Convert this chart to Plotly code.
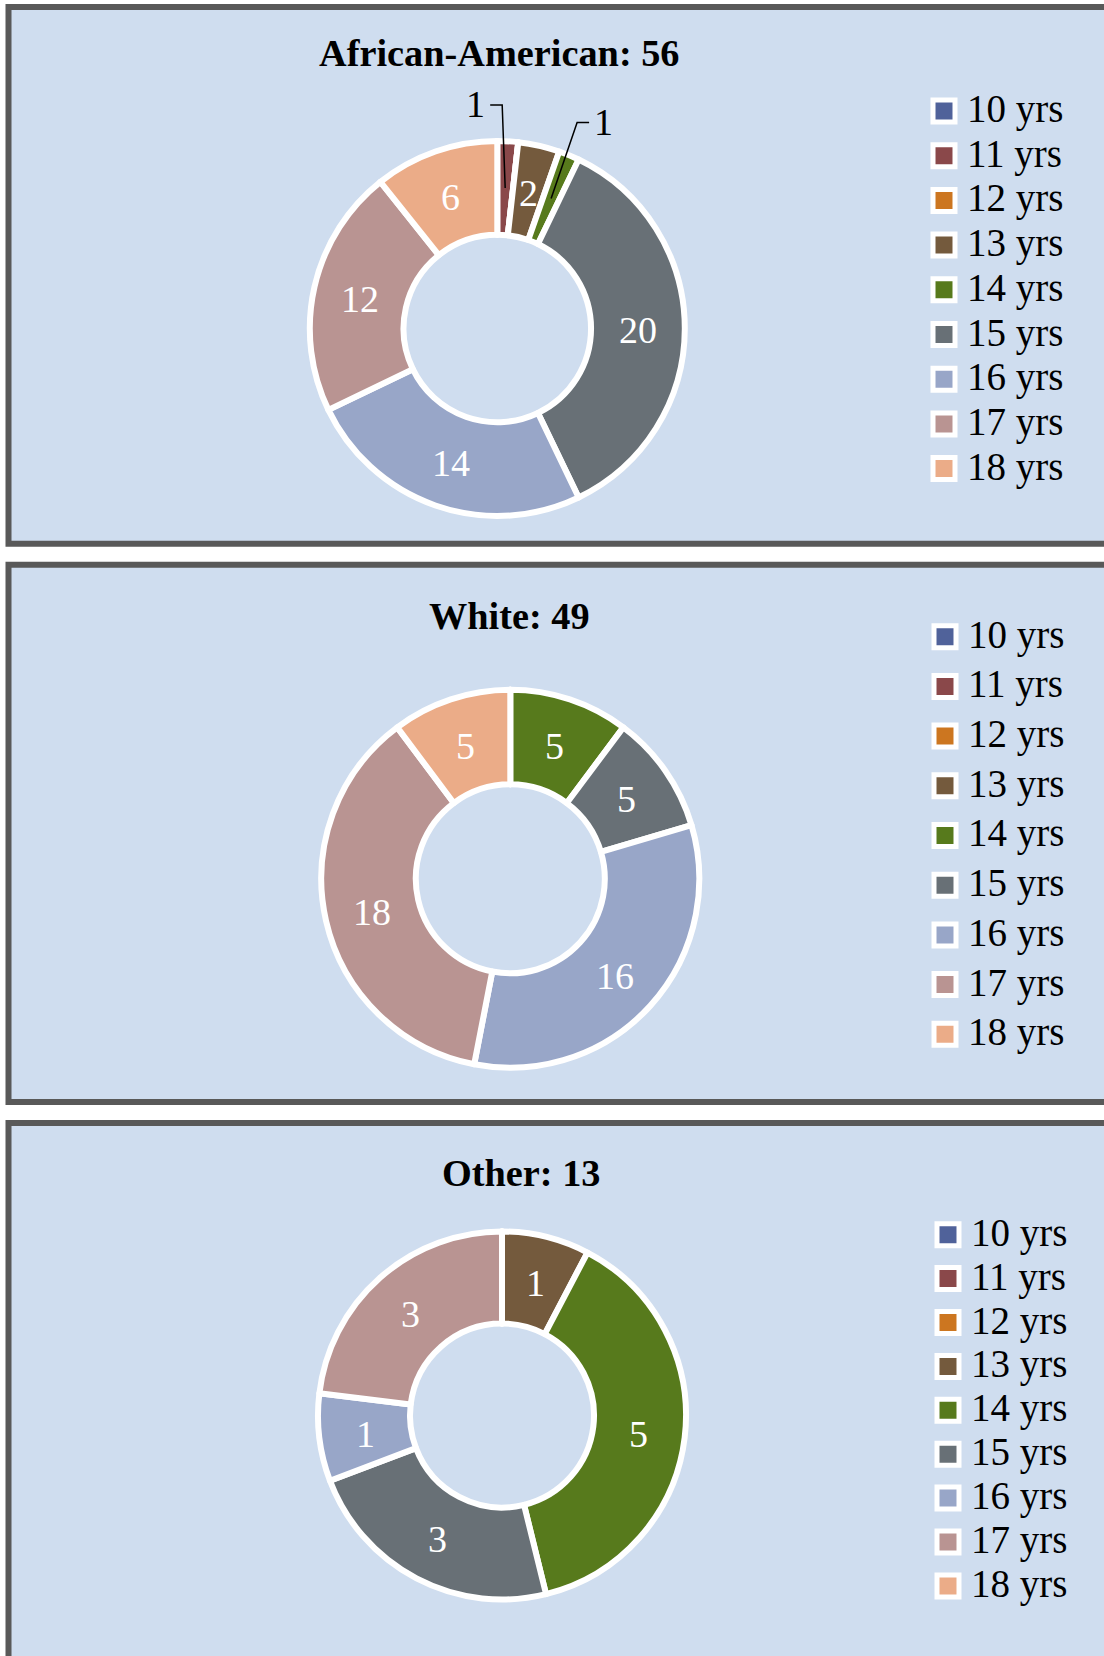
import math
import plotly.graph_objects as go

# ---------------- data ----------------
CATEGORIES = ["10 yrs", "11 yrs", "12 yrs", "13 yrs", "14 yrs",
              "15 yrs", "16 yrs", "17 yrs", "18 yrs"]
COLORS = ["#50629A", "#8A484A", "#CC7620", "#745A3D", "#577A1C",
          "#687076", "#98A6C8", "#B99492", "#EBAC88"]
GROUPS = ["African-American", "White", "Other"]
AA_VALUES = [0, 1, 0, 2, 1, 20, 14, 12, 6]
WHITE_VALUES = [0, 0, 0, 0, 5, 5, 16, 18, 5]
OTHER_VALUES = [0, 0, 0, 1, 5, 3, 1, 3, 0]
SERIES = [AA_VALUES, WHITE_VALUES, OTHER_VALUES]

# ---------------- layout / style (pixels) ----------------
W, H = 1104, 1656
FONT = "Palatino Linotype, Book Antiqua, Palatino, Liberation Serif, serif"
BG = "#CFDDEF"
BORDER = "#595959"
HOLE = 0.5
INSIDE_MIN_SHARE = 0.03

PANELS = [
    dict(top=7, bottom=543.7, cx=497.3, cy=328.5, r=187.5, title=(499, 53),
         lx=944, ly0=111, ldy=44.7),
    dict(top=564.7, bottom=1102, cx=510.3, cy=878.8, r=189, title=(509.6, 616),
         lx=945, ly0=636.7, ldy=49.7),
    dict(top=1123, bottom=1690, cx=502, cy=1415.5, r=184, title=(521, 1173),
         lx=948, ly0=1234.7, ldy=43.9),
]
# elbow call-outs for slices too thin for an inside label: (corner dx, corner dy, side)
CALLOUTS = {(0, "11 yrs"): (-3, -83, -1), (0, "14 yrs"): (26, -76, 1)}


def px(x):
    return x / W


def py(y):
    return 1 - y / H


fig = go.Figure()
shapes = []
annotations = []

for i, (name, values, p) in enumerate(zip(GROUPS, SERIES, PANELS)):
    total = sum(values)
    # panel frame
    shapes.append(dict(type="rect", xref="paper", yref="paper", layer="below",
                       x0=px(8.5), x1=px(W + 30), y0=py(p["top"]), y1=py(p["bottom"]),
                       fillcolor=BG, line=dict(color=BORDER, width=6)))
    fig.add_trace(go.Pie(
        labels=CATEGORIES, values=values, textinfo="none",
        marker=dict(colors=COLORS, line=dict(color="white", width=6)),
        hole=HOLE, sort=False, direction="clockwise", rotation=0,
        showlegend=False, hoverinfo="skip",
        domain=dict(x=[px(p["cx"] - p["r"]), px(p["cx"] + p["r"])],
                    y=[py(p["cy"] + p["r"]), py(p["cy"] - p["r"])]),
    ))
    # title
    annotations.append(dict(text=f"<b>{name}: {total}</b>", xref="paper", yref="paper",
                            x=px(p["title"][0]), y=py(p["title"][1]),
                            xanchor="center", yanchor="middle", showarrow=False,
                            font=dict(family=FONT, size=38.3, color="black")))
    # data labels (ring middle at each slice's mid angle) and call-outs
    cum = 0
    rmid = p["r"] * (1 + HOLE) / 2
    for cat, v in zip(CATEGORIES, values):
        if v > 0:
            th = 2 * math.pi * (cum + v / 2) / total
            ex = p["cx"] + rmid * math.sin(th)
            ey = p["cy"] - rmid * math.cos(th)
            key = (i, cat)
            if v / total >= INSIDE_MIN_SHARE:
                annotations.append(dict(text=str(v), xref="paper", yref="paper",
                                        x=px(ex), y=py(ey + 1.5),
                                        xanchor="center", yanchor="middle",
                                        showarrow=False,
                                        font=dict(family=FONT, size=38, color="white")))
            elif key in CALLOUTS:
                dx, dy, side = CALLOUTS[key]
                cx_, cy_ = ex + dx, ey + dy
                tx = cx_ + side * 12
                shapes.append(dict(type="path", xref="paper", yref="paper", layer="above",
                                   path=f"M {px(ex)},{py(ey)} L {px(cx_)},{py(cy_)} L {px(tx)},{py(cy_)}",
                                   line=dict(color="black", width=1.5)))
                annotations.append(dict(text=str(v), xref="paper", yref="paper",
                                        x=px(tx + side * 3), y=py(cy_ - 1),
                                        xanchor="left" if side > 0 else "right",
                                        yanchor="middle", showarrow=False,
                                        font=dict(family=FONT, size=38, color="black")))
        cum += v
    # legend
    for k, (cat, col) in enumerate(zip(CATEGORIES, COLORS)):
        yc = p["ly0"] + k * p["ldy"]
        shapes.append(dict(type="rect", xref="paper", yref="paper", layer="above",
                           x0=px(p["lx"] - 11), x1=px(p["lx"] + 11),
                           y0=py(yc + 11), y1=py(yc - 11),
                           fillcolor=col, line=dict(color="white", width=5)))
        annotations.append(dict(text=cat, xref="paper", yref="paper",
                                x=px(p["lx"] + 21), y=py(yc - 2),
                                xanchor="left", yanchor="middle", showarrow=False,
                                font=dict(family=FONT, size=39, color="black")))

fig.update_layout(
    width=W, height=H, margin=dict(l=0, r=0, t=0, b=0),
    paper_bgcolor="white", plot_bgcolor="white",
    shapes=shapes, annotations=annotations,
    font=dict(family=FONT),
)

fig.write_html("out.html", config={"displayModeBar": False},
               post_script="document.body.style.margin='0';")
